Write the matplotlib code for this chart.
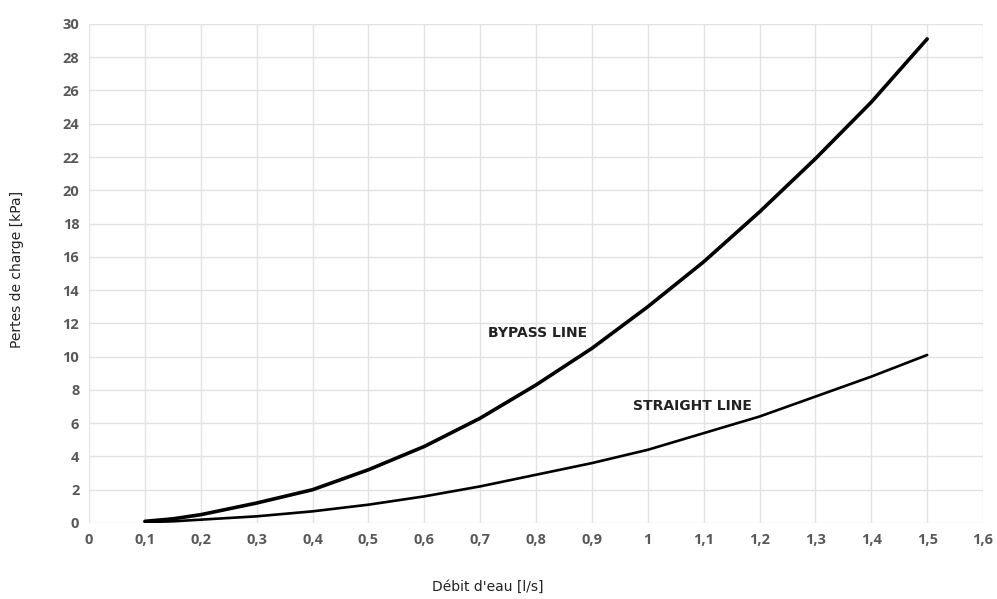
import numpy as np
import matplotlib.pyplot as plt

debit = [0.1, 0.15, 0.2, 0.3, 0.4, 0.5, 0.6, 0.7, 0.8, 0.9, 1.0, 1.1, 1.2, 1.3, 1.4, 1.5]
bypass = [0.1, 0.25, 0.5, 1.2, 2.0, 3.2, 4.6, 6.3, 8.3, 10.5, 13.0, 15.7, 18.7, 21.9, 25.3, 29.1]
straight = [0.05, 0.1, 0.2, 0.4, 0.7, 1.1, 1.6, 2.2, 2.9, 3.6, 4.4, 5.4, 6.4, 7.6, 8.8, 10.1]

x_ticks = np.round(np.arange(0, 1.61, 0.1), 1)
y_ticks = np.arange(0, 31, 2)

fig = plt.figure(figsize=(9.97, 5.99), dpi=100)
ax = fig.add_axes([0.0893, 0.1269, 0.8967, 0.8331])

ax.plot(debit, bypass, color='black', lw=2.6, solid_capstyle='round', solid_joinstyle='round')
ax.plot(debit, straight, color='black', lw=1.9, solid_capstyle='round', solid_joinstyle='round')

ax.set_xlim(0, 1.6)
ax.set_ylim(0, 30)
ax.set_xticks(x_ticks)
ax.set_xticklabels([('%g' % t).replace('.', ',') for t in x_ticks])
ax.set_yticks(y_ticks)
ax.grid(True, color='#e3e3e3', lw=1.0)
ax.set_axisbelow(True)
for s in ax.spines.values():
    s.set_visible(False)
ax.tick_params(length=0, labelsize=10.5, labelcolor='#595959', pad=7)
for lab in ax.get_xticklabels() + ax.get_yticklabels():
    lab.set_fontfamily('Open Sans')
    lab.set_fontweight('bold')

ax.text(0.803, 11.4, 'BYPASS LINE', fontsize=10, fontweight='bold',
        color='#222222', ha='center', va='center')
ax.text(1.08, 7.05, 'STRAIGHT LINE', fontsize=10, fontweight='bold',
        color='#222222', ha='center', va='center')

fig.text(0.017, 0.55, 'Pertes de charge [kPa]', rotation=90, ha='center', va='center',
         fontsize=10, color='#222222')
fig.text(0.489, 0.02, "Débit d'eau [l/s]", ha='center', va='center',
         fontsize=10, color='#222222')

fig.savefig('out.png', dpi=100)
